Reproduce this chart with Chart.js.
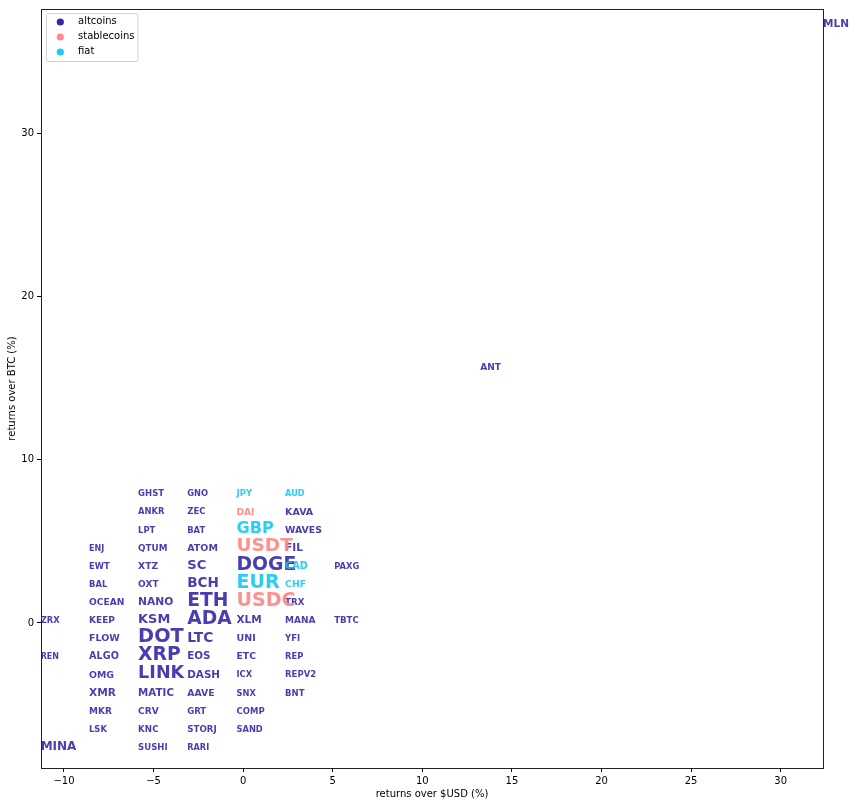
<!DOCTYPE html>
<html>
<head>
<meta charset="utf-8">
<script src="https://cdn.jsdelivr.net/npm/chart.js@4.4.1/dist/chart.umd.min.js"></script>
<style>
  html, body { margin: 0; padding: 0; background: #fff; }
  #wrap { width: 856px; height: 806px; }
</style>
</head>
<body>
<div id="wrap"><canvas id="chart" width="856" height="806"></canvas></div>
<script>
// coins, listed column by column
const symbols = [
  'ZRX', 'REN', 'MINA',
  'ENJ', 'EWT', 'BAL', 'OCEAN', 'KEEP', 'FLOW', 'ALGO', 'OMG', 'XMR', 'MKR', 'LSK',
  'GHST', 'ANKR', 'LPT', 'QTUM', 'XTZ', 'OXT', 'NANO', 'KSM', 'DOT', 'XRP', 'LINK', 'MATIC', 'CRV', 'KNC', 'SUSHI',
  'GNO', 'ZEC', 'BAT', 'ATOM', 'SC', 'BCH', 'ETH', 'ADA', 'LTC', 'EOS', 'DASH', 'AAVE', 'GRT', 'STORJ', 'RARI',
  'JPY', 'DAI', 'GBP', 'USDT', 'DOGE', 'EUR', 'USDC', 'XLM', 'UNI', 'ETC', 'ICX', 'SNX', 'COMP', 'SAND',
  'AUD', 'KAVA', 'WAVES', 'FIL', 'CAD', 'CHF', 'TRX', 'MANA', 'YFI', 'REP', 'REPV2', 'BNT',
  'PAXG', 'TBTC',
  'ANT', 'MLN'
];
const usdReturns = [
  -11.3, -11.3, -11.3,
  -8.6, -8.6, -8.6, -8.6, -8.6, -8.6, -8.6, -8.6, -8.6, -8.6, -8.6,
  -5.86, -5.86, -5.86, -5.86, -5.86, -5.86, -5.86, -5.86, -5.86, -5.86, -5.86, -5.86, -5.86, -5.86, -5.86,
  -3.12, -3.12, -3.12, -3.12, -3.12, -3.12, -3.12, -3.12, -3.12, -3.12, -3.12, -3.12, -3.12, -3.12, -3.12,
  -0.37, -0.37, -0.37, -0.37, -0.37, -0.37, -0.37, -0.37, -0.37, -0.37, -0.37, -0.37, -0.37, -0.37,
  2.34, 2.34, 2.34, 2.34, 2.34, 2.34, 2.34, 2.34, 2.34, 2.34, 2.34, 2.34,
  5.08, 5.08,
  13.23, 32.36
];
const btcReturns = [
  0.12, -2.10, -7.65,
  4.56, 3.45, 2.34, 1.23, 0.12, -0.99, -2.10, -3.21, -4.32, -5.43, -6.54,
  7.89, 6.78, 5.67, 4.56, 3.45, 2.34, 1.23, 0.12, -0.99, -2.10, -3.21, -4.32, -5.43, -6.54, -7.65,
  7.89, 6.78, 5.67, 4.56, 3.45, 2.34, 1.23, 0.12, -0.99, -2.10, -3.21, -4.32, -5.43, -6.54, -7.65,
  7.89, 6.78, 5.67, 4.56, 3.45, 2.34, 1.23, 0.12, -0.99, -2.10, -3.21, -4.32, -5.43, -6.54,
  7.89, 6.78, 5.67, 4.56, 3.45, 2.34, 1.23, 0.12, -0.99, -2.10, -3.21, -4.32,
  3.45, 0.12,
  15.64, 36.70
];
// relative weight of each coin (drives the label size)
const weights = [
  8.4, 8.0, 12.0,
  8.1, 8.4, 8.4, 9.1, 9.0, 9.5, 9.7, 9.4, 10.6, 9.0, 8.4,
  8.5, 8.4, 8.4, 8.8, 9.2, 9.0, 10.7, 12.9, 19.3, 18.8, 17.6, 10.3, 9.1, 8.7, 8.5,
  8.3, 8.5, 8.4, 9.5, 13.1, 13.6, 18.7, 18.7, 13.8, 10.3, 10.4, 9.3, 8.5, 8.7, 8.2,
  8.5, 9.1, 16.1, 18.5, 18.8, 19.1, 19.1, 10.5, 9.5, 9.3, 8.3, 8.3, 8.5, 8.3,
  8.2, 9.5, 9.4, 10.6, 9.8, 9.3, 8.7, 9.0, 8.5, 8.4, 8.5, 8.5,
  8.4, 8.6,
  9.0, 10.5
];
const stablecoins = ['DAI', 'USDT', 'USDC'];
const fiat = ['JPY', 'GBP', 'EUR', 'AUD', 'CAD', 'CHF'];
const groupNames = ['altcoins', 'stablecoins', 'fiat'];
const xTicks = [-10, -5, 0, 5, 10, 15, 20, 25, 30];
const yTicks = [0, 10, 20, 30];

const groupOf = (s) => (stablecoins.includes(s) ? 'stablecoins' : fiat.includes(s) ? 'fiat' : 'altcoins');
const markerColors = { altcoins: '#3328a5', stablecoins: '#ff8b87', fiat: '#1cc9f6' };
const textColors = { altcoins: 'rgba(58, 46, 168, 0.92)', stablecoins: 'rgba(255, 136, 130, 0.92)', fiat: 'rgba(20, 200, 242, 0.9)' };
const FONT = '"DejaVu Sans", sans-serif';

const datasets = groupNames.map((g) => ({
  label: g,
  data: symbols
    .map((s, i) => ({ x: usdReturns[i], y: btcReturns[i], label: s, w: weights[i] }))
    .filter((p) => groupOf(p.label) === g),
  backgroundColor: markerColors[g],
  textColor: textColors[g],
  pointRadius: 0,
  pointHoverRadius: 0,
}));

// coin symbols written at their points, left aligned, roughly centred
const labelPlugin = {
  id: 'coinLabels',
  afterDatasetsDraw(chart) {
    const { ctx } = chart;
    ctx.save();
    ctx.textAlign = 'left';
    ctx.textBaseline = 'alphabetic';
    chart.data.datasets.forEach((ds, di) => {
      chart.getDatasetMeta(di).data.forEach((pt, i) => {
        const p = ds.data[i];
        ctx.font = 'bold ' + p.w + 'px ' + FONT;
        ctx.fillStyle = ds.textColor;
        ctx.fillText(p.label, pt.x, pt.y + 1.5 + 0.071 * p.w);
      });
    });
    ctx.restore();
  },
};

// axes frame + legend box in the upper left
const framePlugin = {
  id: 'frameAndLegend',
  afterDraw(chart) {
    const { ctx, chartArea: a } = chart;
    ctx.save();
    ctx.strokeStyle = '#222';
    ctx.lineWidth = 1;
    ctx.strokeRect(Math.round(a.left) + 0.5, Math.round(a.top) + 0.5,
      Math.round(a.right - a.left), Math.round(a.bottom - a.top));

    const x0 = a.left + 5;
    const y0 = a.top + 4;
    ctx.beginPath();
    ctx.roundRect(x0 + 0.5, y0 + 0.5, 91.5, 48, 2);
    ctx.fillStyle = 'rgba(255,255,255,0.8)';
    ctx.fill();
    ctx.strokeStyle = '#d0d0d0';
    ctx.stroke();
    chart.data.datasets.forEach((ds, i) => {
      const cy = y0 + 9 + i * 15;
      ctx.beginPath();
      ctx.arc(x0 + 14.3, cy, 3.6, 0, Math.PI * 2);
      ctx.fillStyle = ds.backgroundColor;
      ctx.fill();
      ctx.fillStyle = '#000';
      ctx.font = '10px ' + FONT;
      ctx.textBaseline = 'middle';
      ctx.textAlign = 'left';
      ctx.fillText(ds.label, x0 + 32, cy - 0.5);
    });
    ctx.restore();
  },
};

const tickFont = { family: FONT, size: 10 };
const minus = (v) => String(v).replace('-', '\u2212');

new Chart(document.getElementById('chart'), {
  type: 'scatter',
  data: { datasets },
  options: {
    responsive: false,
    devicePixelRatio: 1,
    animation: false,
    layout: { padding: { top: 8, right: 33, left: 0, bottom: 0 } },
    plugins: { legend: { display: false }, tooltip: { enabled: false } },
    scales: {
      x: {
        type: 'linear',
        min: -11.28,
        max: 32.36,
        afterBuildTicks: (s) => { s.ticks = xTicks.map((v) => ({ value: v })); },
        afterFit: (s) => { s.height = 38; },
        border: { display: false },
        grid: { drawOnChartArea: false, tickLength: 4, color: '#000' },
        ticks: { color: '#000', font: tickFont, padding: 3, maxRotation: 0, callback: minus },
        title: { display: true, text: 'returns over $USD (%)', color: '#000', font: tickFont, padding: { top: 0, bottom: 6 } },
      },
      y: {
        type: 'linear',
        min: -8.89,
        max: 37.64,
        afterBuildTicks: (s) => { s.ticks = yTicks.map((v) => ({ value: v })); },
        afterFit: (s) => { s.width = 41; },
        border: { display: false },
        grid: { drawOnChartArea: false, tickLength: 4, color: '#000' },
        ticks: { color: '#000', font: tickFont, padding: 3, callback: minus },
        title: { display: true, text: 'returns over BTC (%)', color: '#000', font: tickFont, padding: { top: 6, bottom: 0 } },
      },
    },
  },
  plugins: [labelPlugin, framePlugin],
});
</script>
</body>
</html>
